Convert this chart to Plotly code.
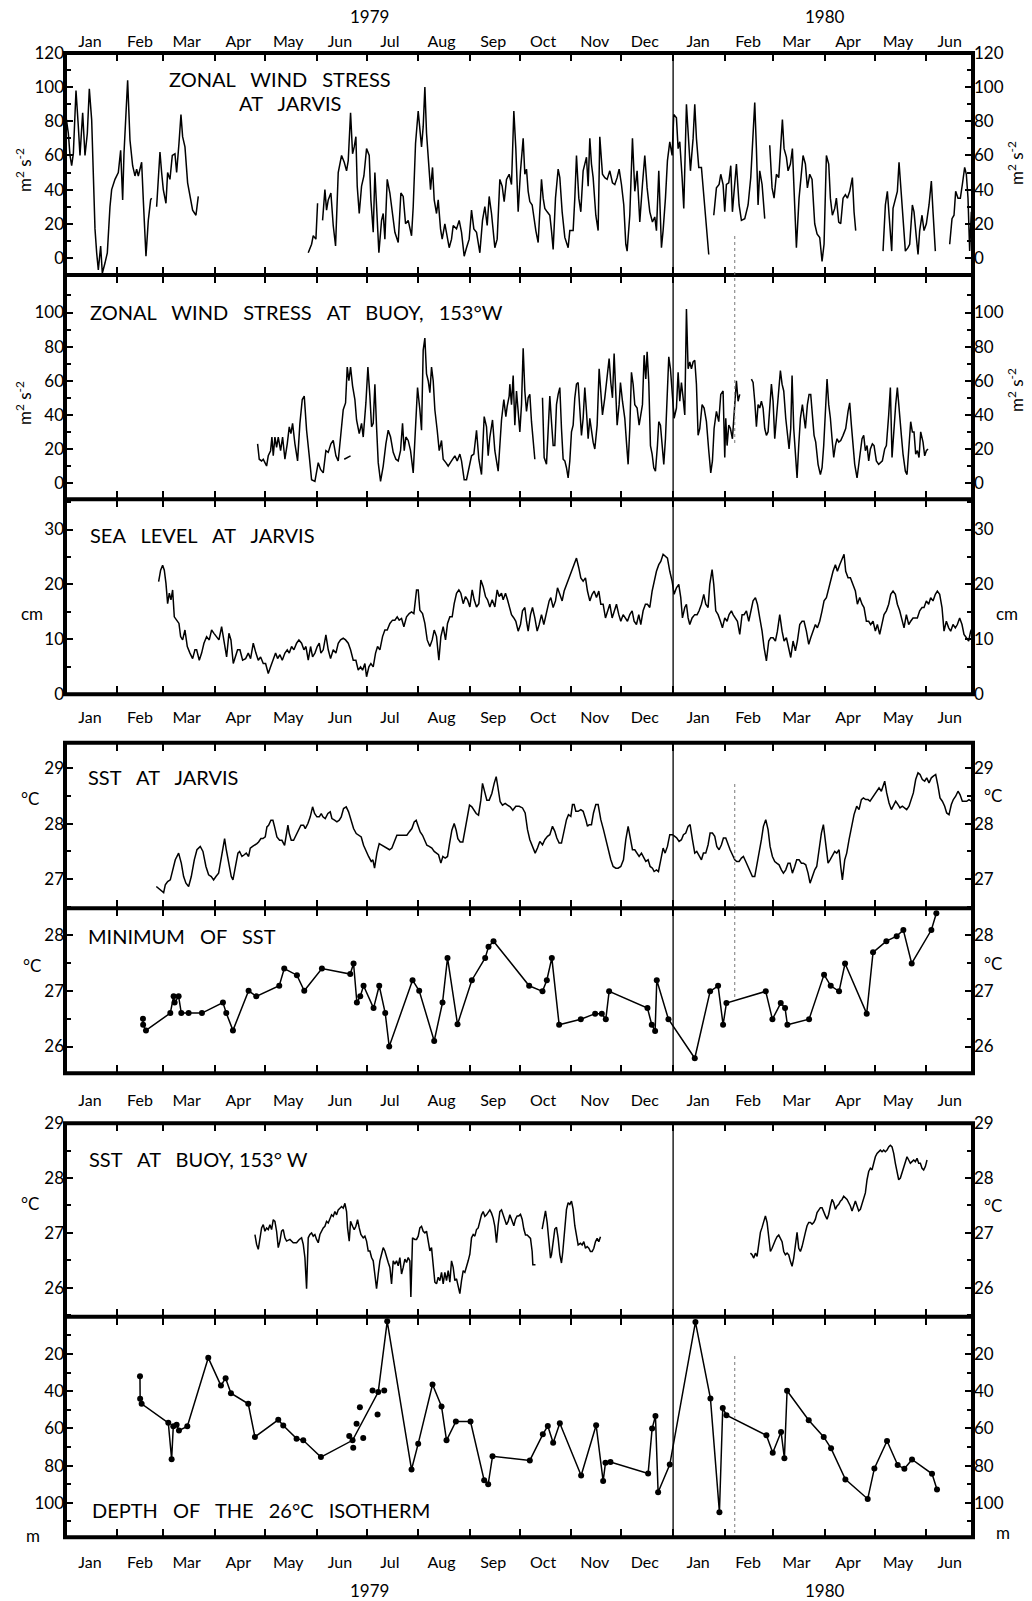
import plotly.graph_objects as go
from datetime import datetime, timedelta

# ---------------- axis text ----------------
MONTH_NAMES = ["Jan", "Feb", "Mar", "Apr", "May", "Jun", "Jul", "Aug", "Sep", "Oct", "Nov", "Dec",
               "Jan", "Feb", "Mar", "Apr", "May", "Jun"]
MONTH_STARTS = ["1979-01-01", "1979-02-01", "1979-03-01", "1979-04-01", "1979-05-01", "1979-06-01",
                "1979-07-01", "1979-08-01", "1979-09-01", "1979-10-01", "1979-11-01", "1979-12-01",
                "1980-01-01", "1980-02-01", "1980-03-01", "1980-04-01", "1980-05-01", "1980-06-01"]
MONTH_MIDS = ["1979-01-16", "1979-02-15", "1979-03-15", "1979-04-15", "1979-05-15", "1979-06-15",
              "1979-07-15", "1979-08-15", "1979-09-15", "1979-10-15", "1979-11-15", "1979-12-15",
              "1980-01-16", "1980-02-15", "1980-03-15", "1980-04-15", "1980-05-15", "1980-06-15"]
YEAR_LABELS = ["1979", "1980"]
YEAR_POS = ["1979-07-03", "1980-04-01"]
X_RANGE = ["1979-01-01", "1980-06-29"]
YEAR_MARK = "1980-01-01"
FOLD_MARK = "1980-02-07"

SP = " \u2002"
PANEL_TITLES = [SP.join(["ZONAL", "WIND", "STRESS", "AT", "BUOY,", "153°W"]),
                SP.join(["SEA", "LEVEL", "AT", "JARVIS"]),
                SP.join(["SST", "AT", "JARVIS"]),
                SP.join(["MINIMUM", "OF", "SST"]),
                SP.join(["SST", "AT", "BUOY, 153° W"]),
                SP.join(["DEPTH", "OF", "THE", "26°C", "ISOTHERM"])]
TOP_TITLE = [SP.join(["ZONAL", "WIND", "STRESS"]), SP.join(["AT", "JARVIS"])]

Y_RANGES = [[-10, 120], [-9.5, 122], [0, 35.5], [26.48, 29.45], [25.52, 28.48], [25.47, 29.0], [118.5, 0]]
Y_MAJOR = [[0, 20, 40, 60, 80, 100, 120], [0, 20, 40, 60, 80, 100], [0, 10, 20, 30], [27, 28, 29],
           [26, 27, 28], [26, 27, 28, 29], [20, 40, 60, 80, 100]]
Y_MINOR = [[10, 30, 50, 70, 90, 110], [10, 30, 50, 70, 90, 110], [5, 15, 25, 35], [26.5, 27.5, 28.5],
           [26.5, 27.5], [25.5, 26.5, 27.5, 28.5], [10, 30, 50, 70, 90, 110]]
UNITS = ["m<sup>2</sup> s<sup>-2</sup>", "m<sup>2</sup> s<sup>-2</sup>", "cm", "°C", "°C", "°C", "m"]

# ---------------- data (days since 1 Jan 1979) ----------------
# Zonal wind stress at Jarvis (m2 s-2)
JW_DAY = [0, 2, 3, 4, 5, 6.6, 8, 9, 10.6, 12,
          13.4, 14.6, 16, 17.4, 18, 19, 20, 21.4, 22.4, 24,
          25.4, 27, 28, 30, 32, 33.4, 34.6, 35.4, 36.6, 37.6,
          39, 40.6, 42, 43, 44, 46, 47, 48.6, 50, 51.4,
          52, None,
          55, 57, 58, 59, 60.6, 61.6, 63, 64.4, 66, 67,
          68.4, 69.6, 70.6, 72, 73.6, 75, 76.6, 78.6, 80, None,
          146, 148, 149, 150.6, 151.6, None,
          154.6, 156, 157, 158, 159.6, 161, 162.4, 164, 166, 167.6,
          169, 170, 171.4, 172.6, 173.6, 174.6, 175.4, 176.6, 178, 179.4,
          181, 182.6, 183.6, 185, 186, 187.4, 188.4, 190, 191, 192,
          193.4, 195, 196.6, 198, 200, 201.6, 203, 204.4, 206, 208,
          209, 210.4, 212, 213, 214, 215, 216, 217, 218.6, 219.4,
          220.6, 221.6, 223, 224, 225.4, 226.4, 228, 229, 230.6, 232,
          233, 235, 236.6, 238, 239.6, 241, 242.6, 244, 245.4, 247,
          249, 250.6, 252, 253.4, 254.6, 256, 258, 259.4, 261, 262.4,
          263.6, 265, 266.6, 268, 269.4, 270.6, 272, 273.4, 275, 276,
          277, 278, 279, 280.4, 281.4, 282.6, 284, 285, 286, 287,
          288, 289.4, 291, 292, 293, 294.4, 296, 297, 298.4, 300,
          302, 303, 305, 306, 307, 308.4, 309.6, 311, 313, 314,
          315, 316, 317, 318.6, 320, 321, 322.6, 324, 325.4, 327,
          328.6, 330, 331.4, 332.6, 334, 335.4, 336.6, 337.4, 339, 340.6,
          342, 343.4, 345, 346.6, 348, 349.4, 351, 352.6, 354, 355,
          356.4, 358, 359, 360.4, 361.6, 363, 364.4, 365.4, 367, 368,
          369, 370.4, 371.4, 373, 374, 375.4, 377, 378, 379, 380.4,
          382, 383.4, 385, 386.4, None,
          389.4, 391, 392.6, 393.6, 395, 396, 397, 398.4, 399.6, 400.6,
          401.6, 403, 404.6, 406, 408, 410, 411.6, 413, 414, 415,
          416, 417, 418.4, 420, None,
          423, 424.4, 425.6, 427, 428.4, 429.6, 430.6, 431.6, 433, 434,
          435.4, 436.6, 438, 439, 440.6, 442, 443, 444.4, 445.6, 447,
          448.4, 450, 451.4, 453, 454.4, 455.6, 457, 458.4, 459.4, 460.6,
          462, 463, 464.4, 465.6, 467, 468.4, 469.6, 471, 472.6, 473.6,
          474.6, None,
          491, 492.4, 493.6, 495, 496.2, 497, 498.6, 499.6, 500.6, 502,
          503, 504.4, 506, 507, 508.6, 509.6, 511, 512, 513, 514.4,
          515.6, 517, 518.6, 520, 521, 522.4, None,
          531, 532.4, 533.6, 534.6, 536, 537.4, 538.6, 540, 541, 542,
          543, 544]
JW_VAL = [87, 73, 60, 54, 61, 98, 77, 60, 85, 60,
          73, 99, 81, 34, 17, 3, -7, 7, -9, -3,
          3, 30, 40, 46, 50, 63, 34, 61, 81, 104,
          69, 54, 48, 52, 48, 56, 34, 1, 22, 34,
          35, None,
          30, 62, 50, 40, 32, 50, 46, 60, 61, 50,
          67, 84, 71, 65, 44, 36, 28, 25, 36, None,
          3, 8, 13, 11, 32, None,
          22, 40, 28, 34, 38, 19, 7, 50, 60, 56,
          51, 57, 85, 61, 65, 71, 42, 26, 42, 48,
          64, 60, 34, 15, 50, 24, 3, 22, 26, 11,
          46, 38, 24, 15, 9, 38, 36, 20, 22, 13,
          30, 67, 86, 77, 65, 77, 100, 73, 48, 40,
          53, 34, 26, 34, 17, 11, 20, 15, 6, 11,
          19, 17, 22, 15, 1, 6, 11, 28, 17, 15,
          3, 22, 30, 19, 36, 26, 6, 11, 46, 42,
          33, 46, 49, 43, 86, 64, 27, 51, 70, 49,
          52, 39, 33, 31, 23, 16, 9, 25, 46, 35,
          29, 27, 25, 16, 5, 35, 52, 47, 27, 12,
          6, 16, 16, 35, 60, 35, 27, 51, 59, 42,
          70, 55, 47, 25, 16, 71, 49, 47, 46, 51,
          44, 43, 47, 52, 43, 31, 8, 4, 25, 70,
          39, 51, 21, 43, 60, 41, 27, 21, 24, 16,
          51, 6, 16, 35, 57, 68, 60, 84, 82, 64,
          68, 47, 29, 90, 74, 51, 70, 90, 70, 53,
          53, 35, 20, 2, None,
          25, 41, 43, 49, 43, 27, 43, 44, 54, 27,
          39, 55, 31, 22, 23, 31, 47, 74, 91, 64,
          31, 51, 43, 23, None,
          66, 41, 35, 49, 47, 66, 81, 64, 59, 51,
          55, 64, 27, 6, 35, 51, 60, 55, 41, 49,
          46, 20, 14, 12, -2, 8, 60, 55, 35, 25,
          29, 35, 21, 20, 35, 37, 35, 39, 47, 27,
          16, None,
          4, 31, 39, 18, 4, 29, 35, 39, 56, 35,
          20, 4, 6, 8, 31, 27, 12, 2, 16, 25,
          16, 20, 31, 45, 27, 4, None,
          8, 23, 25, 39, 35, 35, 43, 53, 49, 35,
          4, 27]

# Zonal wind stress at buoy, 153W (m2 s-2)
BW_DAY = [115.6, 116.6, 118, 119, 120, 121, 122, 123.4, 124.2, 125,
          126, 127, 128, 129.4, 130.6, 132, 133.4, 134.6, 135.6, 136.6,
          138, 139.6, 141, 142.4, 143.6, 145, 146.6, 148, 150, 152,
          153.4, 155, 156.6, 158, 159.6, 161, 162.6, 164, 165.4, 167,
          168.4, 169.4, 170.4, 171.4, 172.6, 174, 175, 176.6, 178, 179,
          180.6, 181.8, 183, 184, 185, 186, 187, 188, 189.4, 191,
          192.6, 194, 195.4, 197, 198.6, 200, 201.4, 202.6, 203.6, 204.6,
          206, 207.4, 209, 210.6, 211.6, 213, 214, 215, 216, 217,
          218, 219, 220, 221, 222, 223.4, 224.6, 226, 227, 228.6,
          230, 232, 234, 235.4, 237, 238, 239.6, 241, 242.6, 244,
          245.4, 247, 248.4, 250, 251.6, 253, 254, 255, 256.6, 258,
          260, 262, 263.4, 264.6, 265.4, 266.6, 267, 268, 269, 270,
          271, 272, 273, 274, 275, 276, 277, 278, 279, 280,
          281, 282, None,
          286.6, 287.6, 289, 290, 291, 292, 293, 294, 295, 296,
          297, 298, 299, 300, 301, 302, 303, 304, 305, 306,
          307, 308, 309, 310, 311, 312, 313, 314, 315, 316,
          317, 318, 319.4, 320.6, 321.6, 322.6, 324, 325.4, 326.6, 327.6,
          328.6, 329.6, 330.6, 331.4, 332.6, 333.4, 334.6, 336, 337, 338,
          339, 340, 341, 342, 343.4, 344.6, 345.6, 346.6, 347.6, 348.6,
          349.4, 350.4, 351.4, 352.4, 353.4, 354.4, 355.6, 356.4, 357.4, 358.4,
          359.4, 360.4, 361.4, 362.4, 363.4, 364.4, 365.6, 367, 368, 369,
          370, 371, 372, 373, 374, 375, 376, 377, 378, 379,
          380, 381, 382.4, 383.6, 385, 386.4, 387.6, 388.6, 389.6, 391,
          392.4, 393.6, 395, 396, 396.6, 397.4, 398.4, 399.4, 400.6, 402,
          403, 404, 405, None,
          412, 413, 414, 415, 416, 417, 418, 419, 420, 421,
          422, 423, 424, 425, 426, 427, 428.2, 429.4, 430.4, 431.4,
          432.6, 433.6, 434.6, 435.6, 436.4, 437.4, 438.4, 439.4, 440.4, 441.4,
          442.6, 443.4, 444.4, 445.6, 446.6, 447.6, 448.6, 449.6, 450.6, 452,
          453.4, 454.4, 455.4, 456.4, 457.4, 458.4, 459.4, 460.4, 461.4, 462.4,
          463.4, 464.4, 465.6, 467, 468.6, 470, 471, 472, 473, 474,
          475.4, 476.4, 477.4, 478.4, 479.4, 480.4, 481.4, 482.4, 483.4, 484.6,
          485.6, 487, 488.4, 489.6, 490.6, 492, 493, 494.4, 495.4, 496.4,
          497.6, 498.6, 499.6, 500.6, 502, 503, 504.4, 505.4, 506.4, 507.6,
          508.6, 509.6, 510.6, 511.6, 512.6, 513.6, 515, 516, 517, 518]
BW_VAL = [23, 14, 13, 14, 12, 10, 16, 19, 27, 16,
          27, 21, 27, 19, 27, 14, 23, 33, 29, 35,
          23, 13, 35, 49, 51, 31, 16, 2, 1, 12,
          8, 6, 19, 18, 23, 25, 16, 13, 27, 43,
          47, 68, 60, 68, 57, 49, 37, 29, 35, 27,
          47, 68, 51, 33, 35, 58, 33, 12, 1, 10,
          23, 31, 27, 18, 14, 13, 19, 35, 19, 27,
          25, 19, 6, 33, 56, 43, 31, 78, 85, 64,
          60, 53, 68, 60, 43, 31, 19, 25, 14, 12,
          10, 13, 16, 13, 17, 13, 2, 2, 10, 16,
          17, 31, 14, 5, 39, 33, 16, 27, 37, 19,
          7, 37, 49, 39, 45, 51, 58, 46, 63, 34,
          54, 42, 30, 46, 79, 54, 42, 50, 52, 36,
          24, 14, None,
          50, 15, 11, 32, 51, 36, 22, 22, 46, 52,
          56, 32, 14, 13, 9, 3, 13, 30, 34, 50,
          58, 59, 42, 28, 38, 56, 42, 26, 38, 30,
          24, 20, 34, 67, 50, 40, 50, 61, 73, 59,
          50, 76, 56, 34, 46, 59, 48, 38, 24, 11,
          32, 65, 58, 46, 44, 34, 40, 46, 75, 61,
          77, 59, 22, 17, 9, 7, 22, 36, 34, 24,
          11, 26, 54, 74, 67, 56, 38, 44, 65, 48,
          59, 50, 40, 102, 67, 71, 67, 71, 72, 58,
          28, 32, 46, 44, 36, 19, 6, 13, 32, 42,
          36, 52, 54, 15, 38, 22, 34, 32, 26, 46,
          60, 48, 52, None,
          61, 59, 48, 33, 46, 44, 48, 44, 32, 28,
          30, 46, 58, 48, 26, 38, 54, 66, 58, 54,
          38, 28, 20, 32, 63, 32, 18, 3, 22, 38,
          46, 38, 32, 46, 52, 52, 40, 28, 24, 11,
          5, 9, 22, 42, 61, 46, 38, 26, 15, 22,
          26, 24, 25, 28, 32, 42, 47, 34, 22, 11,
          3, 11, 19, 26, 28, 19, 22, 13, 20, 23,
          22, 13, 11, 12, 13, 20, 22, 40, 56, 15,
          36, 46, 56, 42, 28, 17, 7, 5, 19, 36,
          30, 30, 17, 19, 15, 30, 24, 16, 19, 20]
BW_DASH_DAY = [167.6, 171.4]
BW_DASH_VAL = [14, 16]

# Sea level at Jarvis (cm)
SL_DAY = [56.2, 57.4, 58.6, 59.6, 60.6, 61.6, 62.6, 63.6, 64.6, 65.6,
          67, 68.4, 69.4, 70.6, 72, 73.4, 75, 76.6, 78, 79,
          80.6, 82, 83.4, 85, 86.6, 88, 89.4, 91, 92.4, 94,
          95.4, 97, 98.4, 99.6, 101, 102.4, 103.6, 105, 106.6, 108.4,
          110, 111.4, 113, 114.6, 116, 117.4, 119, 120.4, 122, 123.4,
          125, 126.4, 127.6, 129, 130.4, 132, 133.4, 134.6, 136, 137.4,
          139, 140.4, 142, 143.4, 144.6, 146, 147.4, 148.6, 150, 151.4,
          152.6, 153.6, 155, 156.6, 158, 159.4, 161, 162.6, 164, 165.4,
          167, 168.4, 170, 171.4, 173, 174.6, 176, 177.4, 178.6, 180,
          181, 182.4, 183.6, 185, 186.4, 187.6, 189, 190.6, 192, 193.4,
          195, 196.6, 198, 199.4, 200.6, 202, 203.4, 205, 206.6, 208,
          209.4, 211, 212, 213, 214.6, 216, 217.4, 219, 220.4, 221.6,
          223, 224.4, 225.6, 227, 228.4, 229.6, 231, 232.4, 233.6, 235,
          236.4, 237.6, 239, 240.4, 241.6, 243, 244.4, 245.6, 247, 248.4,
          249.6, 251, 252.4, 253.6, 255, 256.4, 258, 259.4, 260.6, 262,
          263, 264.4, 265.6, 267, 268, 269.4, 270.6, 272, 273.4, 274.6,
          276, 277, 278, 279.4, 280.6, 282, 283.4, 284.6, 286, 287.4,
          289, 290.6, 291.6, 293, 294.4, 295.6, 297, 298.4, 299.6, 301,
          302.4, 304, 305.4, 307, 308.4, 309.6, 311, 312.4, 313.6, 315,
          316.4, 317.6, 319, 320.4, 321.6, 323, 324.4, 325.6, 327, 328.4,
          329.6, 331, 332.4, 333.6, 335, 336.4, 337.6, 339, 340.4, 341.6,
          343, 344.4, 345.6, 347, 348.4, 349.6, 351, 352.4, 353.6, 355,
          356.4, 357.6, 359, 360.4, 361.6, 363, 364.4, 365.6, 367, 368.4,
          369.6, 370.6, 372, 373, 374, 375, 376.4, 378, 379.4, 380.6,
          382, 383.4, 384.6, 386, 387, 388.4, 389.4, 390.6, 392, 393.4,
          394.6, 396, 397.4, 398.6, 400, 401, 402.4, 403.6, 405, 406.4,
          407.6, 409, 410.4, 411.6, 413, 414.4, 415.6, 417, 418.4, 419.6,
          421, 422.4, 423.6, 425, 426.4, 427.6, 429, 430.4, 431.6, 433,
          434.4, 435.6, 437, 438.4, 439.6, 441, 442.4, 443.6, 445, 446.4,
          447.6, 449, 450.4, 451.6, 453, 454.4, 455.6, 457, 458.4, 459.6,
          461, 462.4, 463.6, 465, 466.4, 467.6, 468.6, 470, 471.4, 473,
          474.4, 475.6, 477, 478.4, 479.6, 481, 482.4, 483.6, 485, 486.4,
          487.6, 489, 490.4, 491.6, 493, 494.4, 495.6, 497, 498.4, 499.6,
          501, 502.4, 503.6, 505, 506.4, 507.6, 509, 510.4, 511.6, 513,
          514.4, 515.6, 517, 518.4, 519.6, 521, 522.4, 523.6, 525, 526.4,
          527.6, 529, 530.4, 531.6, 533, 534.4, 535.6, 537, 538.4, 539.6,
          541, 542.4, 543.6, 544.6]
SL_VAL = [20.5, 22.6, 23.5, 22.6, 20.2, 16.5, 18.4, 17.2, 19.0, 14.1,
          13.5, 12.9, 10.5, 9.9, 11.7, 8.7, 7.5, 6.5, 8.1, 8.1,
          6.2, 7.5, 9.3, 10.5, 9.9, 11.7, 11.1, 10.5, 9.9, 12.3,
          9.3, 6.8, 11.1, 9.9, 5.6, 6.8, 8.1, 8.1, 6.2, 6.5,
          7.5, 6.5, 9.3, 7.5, 6.2, 6.8, 5.6, 5.6, 3.8, 5.0,
          6.2, 7.5, 6.5, 7.2, 6.2, 7.5, 8.1, 7.5, 8.7, 8.1,
          9.3, 9.9, 9.3, 8.1, 8.7, 6.2, 8.7, 6.8, 7.5, 8.7,
          9.3, 7.5, 8.1, 10.8, 8.1, 6.5, 8.1, 7.5, 9.3, 9.9,
          10.2, 9.9, 9.3, 8.1, 6.2, 6.2, 4.4, 5.0, 4.4, 5.6,
          3.2, 5.0, 5.6, 5.0, 7.5, 8.7, 8.1, 10.5, 11.7, 11.7,
          12.9, 13.5, 13.5, 14.1, 13.5, 13.8, 12.3, 14.1, 14.7, 15.0,
          14.7, 19.0, 19.0, 15.3, 14.7, 12.9, 9.9, 8.7, 9.9, 11.7,
          10.5, 6.2, 10.5, 12.3, 9.9, 12.9, 14.1, 14.1, 16.5, 18.4,
          19.0, 18.4, 16.5, 17.8, 17.2, 15.9, 19.0, 17.2, 15.9, 16.5,
          20.8, 19.6, 17.8, 17.2, 15.9, 17.2, 15.9, 19.0, 17.8, 18.4,
          17.2, 18.4, 17.2, 15.8, 14.5, 13.9, 13.3, 11.5, 12.7, 15.2,
          15.8, 13.3, 11.5, 14.5, 15.8, 13.9, 11.5, 12.7, 14.5, 12.7,
          15.2, 17.0, 17.6, 15.8, 17.0, 19.4, 18.2, 17.0, 18.8, 20.0,
          21.2, 22.4, 23.6, 24.8, 23.0, 21.2, 20.6, 21.2, 18.8, 17.0,
          18.2, 18.8, 17.6, 18.8, 16.4, 16.4, 13.9, 15.2, 16.4, 13.9,
          15.2, 16.4, 14.5, 13.3, 14.5, 13.9, 13.3, 14.5, 15.2, 13.3,
          12.7, 14.5, 12.7, 15.2, 16.4, 16.4, 15.8, 18.8, 20.6, 22.4,
          23.6, 24.2, 25.5, 25.2, 24.8, 22.4, 20.6, 18.2, 19.4, 20.0,
          17.6, 13.9, 15.8, 16.4, 13.9, 12.7, 13.9, 14.5, 14.5, 15.2,
          16.4, 18.2, 16.4, 15.8, 20.0, 22.7, 20.0, 15.2, 14.5, 13.3,
          12.1, 13.9, 13.3, 14.5, 15.2, 14.5, 13.9, 13.3, 10.9, 14.5,
          14.5, 15.2, 13.3, 15.2, 17.0, 17.6, 16.4, 13.9, 11.5, 8.5,
          6.1, 9.7, 10.3, 10.3, 9.7, 11.5, 14.5, 11.5, 9.7, 10.3,
          8.5, 6.7, 9.7, 7.9, 9.7, 12.7, 13.3, 13.3, 11.5, 9.1,
          10.3, 11.5, 12.7, 12.1, 13.3, 15.2, 17.0, 17.6, 19.4, 20.6,
          22.4, 23.6, 22.4, 23.6, 24.8, 25.5, 22.4, 21.2, 21.2, 20.0,
          18.8, 16.4, 17.6, 16.4, 15.8, 13.3, 13.3, 12.7, 13.3, 11.5,
          12.7, 10.9, 12.7, 14.5, 15.2, 16.4, 18.2, 18.8, 18.2, 16.4,
          15.2, 13.3, 12.1, 14.5, 12.7, 13.3, 13.9, 13.9, 13.9, 15.2,
          15.8, 15.8, 17.0, 16.4, 17.6, 17.0, 18.2, 18.8, 18.2, 15.8,
          11.5, 13.3, 12.1, 11.5, 12.7, 12.1, 12.7, 13.9, 12.7, 10.9,
          10.3, 9.7, 11.5, 12.1]

# SST at Jarvis (deg C)
SJ_DAY = [54.8, 56.2, 57.8, 59.2, 60.2, 61.6, 63.2, 64.6, 66.2, 68.2,
          69.8, 71.2, 72.6, 74.2, 75.8, 77.6, 79.2, 81.2, 82.8, 84.6,
          86.2, 87.8, 89.2, 90.6, 92.2, 93.6, 94.8, 95.8, 96.8, 98.2,
          99.8, 100.8, 102.2, 103.8, 104.8, 106.2, 107.6, 108.8, 110.2, 111.2,
          112.6, 113.8, 115.2, 116.2, 117.6, 118.8, 120.2, 121.2, 122.2, 123.6,
          124.8, 125.8, 127.2, 128.8, 130.2, 131.8, 132.8, 133.8, 134.6, 135.8,
          137.2, 138.6, 140.2, 141.6, 143.2, 144.2, 145.8, 147.2, 148.6, 149.8,
          151.2, 152.6, 153.8, 154.8, 156.2, 157.8, 159.2, 160.2, 161.8, 163.2,
          164.6, 165.8, 167.2, 168.8, 170.2, 171.6, 173.2, 174.8, 176.2, 177.8,
          179.2, 180.6, 182.2, 183.8, 184.8, 185.8, 187.2, 188.6, 190.2, 191.6,
          193.2, 194.8, 196.2, 197.6, 199.2, 200.6, 202.2, 203.8, 205.2, 206.6,
          208.2, 209.6, 210.8, 211.8, 213.2, 214.6, 215.8, 217.2, 218.6, 220.2,
          221.6, 222.8, 224.2, 225.6, 226.8, 228.2, 229.6, 230.8, 232.2, 233.6,
          234.8, 235.8, 237.2, 238.8, 240.2, 241.6, 242.8, 244.2, 245.6, 246.8,
          248.2, 249.6, 250.6, 251.8, 253.2, 254.6, 256.2, 257.6, 258.8, 259.8,
          261.2, 262.6, 264.2, 265.6, 267.2, 268.8, 270.6, 272.6, 274.6, 276.2,
          277.6, 279, 280.6, 282.2, 283.6, 285, 286.6, 288, 289.6, 291,
          292.6, 294, 295.2, 296.6, 298, 299.6, 301, 302.2, 303.6, 304.6,
          305.6, 306.6, 308, 309.6, 311, 312.6, 313.6, 314.6, 316, 317.2,
          318.6, 320, 321.6, 323.2, 324.6, 326.2, 327.6, 329, 330.6, 332,
          333.6, 335.2, 336.6, 338, 339.2, 340.6, 342, 343.2, 344.6, 346,
          347.2, 348.6, 350, 351.2, 352.6, 353.6, 355, 356.2, 357.6, 359,
          360.2, 361.6, 363, 364.6, 366, 367.2, 368.6, 370, 371.2, 372.6,
          374, 375.2, 376.6, 378, 379.2, 380.6, 382, 383.2, 384.6, 386,
          387.2, 388.6, 390, 391.2, 392.6, 394, 395.2, 396.6, 398, 399.2,
          400.6, 402, 403.2, 404.6, 406, 407.2, 408.6, 410, 411.2, 412.6,
          414, 415.2, 416.6, 418, 419.2, 420.6, 422, 423.2, 424.6, 426,
          427.2, 428.6, 430, 431.2, 432.6, 434, 435.2, 436.6, 438, 439.2,
          440.6, 442, 443.2, 444.6, 446, 447.2, 448.6, 450, 451.2, 452.6,
          454, 455.2, 456.6, 458, 459.2, 460.6, 462, 463.2, 464.6, 465.6,
          466.6, 468, 469.2, 470.6, 472, 473.6, 475.2, 476.6, 478, 479.2,
          480.6, 482, 483.2, 484.6, 486, 487.2, 488.6, 490, 491.2, 492,
          493.2, 494.6, 496, 497.2, 498.6, 500, 501.2, 502.6, 504, 505.2,
          506.6, 508, 509.2, 510.6, 512, 513.2, 514.6, 516, 517.2, 518.6,
          520, 521.2, 522.6, 524, 525.2, 526.6, 528, 529.2, 530.6, 532,
          533.2, 534.6, 536, 537.2, 538.6, 540, 541.2, 542.6, 544]
SJ_VAL = [26.87, 26.84, 26.80, 26.76, 26.90, 26.96, 26.99, 27.17, 27.35, 27.47,
          27.29, 27.05, 26.93, 26.87, 27.05, 27.35, 27.53, 27.59, 27.50, 27.23,
          27.08, 27.05, 26.99, 27.05, 27.11, 27.35, 27.59, 27.73, 27.53, 27.29,
          27.05, 26.99, 27.23, 27.47, 27.50, 27.41, 27.44, 27.47, 27.41, 27.56,
          27.59, 27.61, 27.64, 27.67, 27.73, 27.73, 27.76, 27.94, 27.97, 28.06,
          28.06, 27.94, 27.76, 27.70, 27.70, 27.61, 27.76, 27.97, 27.82, 27.70,
          27.70, 27.79, 27.91, 27.97, 27.97, 27.91, 28.00, 28.12, 28.30, 28.18,
          28.12, 28.12, 28.18, 28.12, 28.09, 28.18, 28.21, 28.09, 28.06, 28.03,
          28.06, 28.12, 28.27, 28.30, 28.21, 28.06, 27.91, 27.82, 27.79, 27.76,
          27.61, 27.50, 27.41, 27.32, 27.35, 27.20, 27.47, 27.64, 27.61, 27.59,
          27.56, 27.53, 27.56, 27.67, 27.79, 27.79, 27.79, 27.79, 27.79, 27.85,
          27.91, 28.03, 28.06, 27.97, 27.85, 27.79, 27.70, 27.61, 27.59, 27.56,
          27.50, 27.47, 27.44, 27.29, 27.41, 27.38, 27.41, 27.64, 27.88, 28.00,
          27.88, 27.73, 27.67, 27.67, 27.88, 28.12, 28.33, 28.30, 28.24, 28.18,
          28.15, 28.42, 28.72, 28.57, 28.42, 28.42, 28.54, 28.72, 28.84, 28.66,
          28.39, 28.33, 28.36, 28.33, 28.30, 28.24, 28.31, 28.31, 28.28, 28.19,
          27.89, 27.71, 27.59, 27.47, 27.56, 27.68, 27.62, 27.71, 27.77, 27.80,
          27.95, 27.86, 27.74, 27.65, 27.65, 27.89, 28.07, 28.16, 28.13, 28.34,
          28.34, 28.22, 28.22, 28.25, 28.22, 28.07, 27.95, 27.98, 27.98, 28.19,
          28.34, 28.34, 28.07, 27.89, 27.71, 27.53, 27.35, 27.23, 27.20, 27.20,
          27.23, 27.35, 27.71, 27.95, 27.77, 27.53, 27.53, 27.47, 27.41, 27.47,
          27.41, 27.32, 27.35, 27.23, 27.20, 27.14, 27.17, 27.14, 27.35, 27.56,
          27.47, 27.59, 27.80, 27.80, 27.77, 27.74, 27.68, 27.71, 27.80, 27.83,
          27.95, 27.98, 27.71, 27.47, 27.50, 27.41, 27.35, 27.47, 27.47, 27.62,
          27.83, 27.83, 27.77, 27.59, 27.53, 27.62, 27.74, 27.74, 27.62, 27.53,
          27.44, 27.35, 27.32, 27.32, 27.38, 27.41, 27.32, 27.23, 27.14, 27.05,
          27.05, 27.23, 27.47, 27.71, 27.95, 28.07, 27.89, 27.59, 27.41, 27.32,
          27.29, 27.26, 27.17, 27.11, 27.17, 27.29, 27.29, 27.11, 27.23, 27.35,
          27.35, 27.29, 27.29, 27.26, 27.11, 26.93, 27.05, 27.17, 27.23, 27.53,
          27.83, 27.98, 27.65, 27.29, 27.35, 27.44, 27.50, 27.47, 27.53, 27.23,
          26.99, 27.35, 27.47, 27.71, 27.95, 28.16, 28.31, 28.25, 28.43, 28.46,
          28.43, 28.43, 28.40, 28.46, 28.52, 28.58, 28.64, 28.58, 28.70, 28.76,
          28.55, 28.37, 28.25, 28.31, 28.40, 28.34, 28.28, 28.31, 28.28, 28.25,
          28.31, 28.43, 28.55, 28.79, 28.91, 28.88, 28.79, 28.76, 28.82, 28.73,
          28.82, 28.85, 28.88, 28.67, 28.46, 28.40, 28.31, 28.19, 28.16, 28.34,
          28.43, 28.49, 28.58, 28.52, 28.40, 28.40, 28.40, 28.43, 28.40]

# Minimum of SST (deg C)
MS_DAY = [46.8, 46.9, 48.6, 63.2, 65.2, 65.8, 68.2, 69.8, 74.2, 82.2,
          94.8, 96.8, 100.8, 110.2, 114.8, 128.6, 131.6, 139.2, 143.6, 154.2,
          171.2, 173.2, 175.2, 177.2, 179.2, 185.2, 188.6, 192.2, 194.6, 208.6,
          212.6, 221.6, 226.6, 229.6, 235.6, 244.2, 252.2, 254.2, 257.2, 278.6,
          286.6, 289.2, 292.2, 296.6, 309.6, 318.2, 322.2, 324.6, 326.6, 349.6,
          352.2, 354.2, 355.2, 362.2, 378, 387.2, 392, 395, 397, 420.6,
          424.6, 429.6, 432.2, 433.6, 446.6, 455.6, 459.6, 464.6, 468.2, 481.2,
          485, 493, 499.2, 503.2, 508.2, 520, 523]
MS_VAL = [26.50, 26.39, 26.29, 26.60, 26.90, 26.79, 26.90, 26.60, 26.60, 26.60,
          26.79, 26.60, 26.29, 27.00, 26.90, 27.09, 27.40, 27.28, 27.00, 27.40,
          27.30, 27.49, 26.79, 26.90, 27.09, 26.69, 27.09, 26.60, 26.00, 27.19,
          27.00, 26.10, 26.79, 27.59, 26.40, 27.19, 27.59, 27.79, 27.89, 27.09,
          26.99, 27.19, 27.59, 26.39, 26.49, 26.59, 26.59, 26.49, 26.99, 26.69,
          26.39, 26.28, 27.19, 26.49, 25.79, 26.99, 27.09, 26.39, 26.78, 26.99,
          26.49, 26.78, 26.69, 26.39, 26.49, 27.29, 27.09, 26.99, 27.49, 26.59,
          27.69, 27.89, 27.98, 28.09, 27.49, 28.09, 28.39]

# SST at buoy, 153W (deg C)
SB_DAY = [114, 115, 116, 117, 118, 119, 120, 121, 122, 123,
          124, 125, 126, 127, 128, 129, 130, 131, 132, 133,
          135, 137, 139, 140.6, 142, 143, 144, 145, 146, 147,
          148, 149, 150, 151, 152, 153, 154, 155, 156, 157,
          158, 159, 160, 161, 162, 163, 164, 165, 166, 167,
          168, 169, 169.6, 170.6, 171.4, 172.6, 173.6, 174.6, 175.6, 176.6,
          177.6, 179, 180, 181, 182, 183, 184, 185, 186, 187,
          188, 189, 190, 191, 192, 193, 194, 195, 196, 197,
          198, 199, 200, 201, 202, 203, 204, 205, 206, 207,
          207.6, 208.6, 210, 211, 212, 213, 214, 215, 216, 217,
          218, 219, 220, 221, 222, 223, 224, 225, 226, 227,
          228, 229, 230, 231, 232, 233, 234, 235, 236, 237,
          238, 239, 240, 241, 242, 243, 244, 245, 246, 247,
          248, 249, 250, 251, 252, 253, 254, 255, 256, 257,
          258, 259, 260, 261, 262, 263, 264, 265, 266, 267,
          269.4, 270.4, 271.4, 272.4, 273.4, 274.4, 275.4, 276.4, 277.4, 278.4,
          279.4, 280.4, 280.8, 282.4, None,
          286.4, 287.4, 288.4, 289.4, 290.4, 291.4, 292, 292.8, 294, 295,
          296, 297, 298, 298.8, 300, 301, 302, 303, 304, 305,
          306, 307, 308, 309.4, 310.4, 311.4, 312.4, 313.4, 314.4, 315.4,
          316.4, 317.4, 318.4, 319.4, 320.4, 321.4, None,
          411.4, 412.4, 413.4, 414.4, 415.4, 416.4, 417.4, 418.4, 419.4, 420.4,
          421.4, 422.4, 423.4, 424.4, 425.4, 426.4, 427.4, 428.4, 429.4, 430.4,
          431.4, 432.4, 433.4, 434.4, 435.4, 436.4, 437.4, 438.4, 439.4, 440.4,
          441.4, 442.4, 443.4, 444.4, 445.4, 446.4, 447.4, 448.4, 449.4, 450.4,
          451.4, 452.4, 453.4, 454.4, 455.4, 456.4, 457.4, 458.4, 459.4, 460.4,
          461.4, 462.4, 463.4, 464.4, 465.4, 466.4, 467.4, 468.4, 469.4, 470.4,
          471.4, 472.4, 473.4, 474.4, 475.4, 476.4, 477.4, 478.4, 479.4, 480.4,
          481.4, 482.4, 483.4, 484.4, 485.4, 486.4, 487.4, 488.4, 489.4, 490.4,
          491.4, 492.4, 493.4, 494.4, 495.4, 496.4, 497.4, 498.4, 499.4, 500.4,
          501.4, 502.4, 503.4, 504.4, 505.4, 506.4, 507.4, 508.4, 509.4, 510.4,
          511.4, 512.4, 513.4, 514.4, 515.4, 516.4, 517.4]
SB_VAL = [26.97, 26.79, 26.70, 26.91, 27.09, 27.15, 27.03, 27.09, 27.06, 27.15,
          27.06, 27.24, 27.21, 27.03, 26.73, 26.85, 27.03, 27.06, 26.91, 26.85,
          26.88, 26.82, 26.82, 26.88, 26.91, 26.79, 26.55, 25.98, 26.91, 26.97,
          27.00, 26.94, 26.97, 26.88, 26.82, 26.97, 27.03, 27.09, 27.12, 27.21,
          27.18, 27.24, 27.33, 27.30, 27.39, 27.33, 27.42, 27.45, 27.48, 27.45,
          27.54, 27.39, 27.09, 26.85, 27.21, 27.12, 27.06, 27.12, 27.24, 27.09,
          26.97, 26.91, 26.94, 26.85, 26.67, 26.67, 26.55, 26.49, 26.19, 25.98,
          26.25, 26.49, 26.61, 26.73, 26.67, 26.55, 26.46, 26.37, 26.07, 26.49,
          26.43, 26.49, 26.40, 26.55, 26.25, 26.37, 26.52, 26.46, 26.55, 26.49,
          25.83, 26.91, 26.88, 26.88, 26.94, 27.09, 27.12, 27.03, 27.00, 27.03,
          26.85, 26.67, 26.73, 26.37, 26.10, 26.07, 26.19, 26.13, 26.28, 26.07,
          26.28, 26.13, 26.31, 26.10, 26.49, 26.37, 26.13, 26.16, 26.04, 25.89,
          26.13, 26.31, 26.28, 26.37, 26.49, 26.61, 26.91, 26.97, 26.94, 27.06,
          27.09, 27.21, 27.33, 27.39, 27.30, 27.33, 27.39, 27.42, 27.36, 27.27,
          27.12, 26.82, 27.15, 27.39, 27.42, 27.33, 27.27, 27.15, 27.21, 27.33,
          27.13, 27.25, 27.31, 27.31, 27.34, 27.25, 27.07, 26.96, 26.96, 26.93,
          26.90, 26.66, 26.42, 26.42, None,
          27.07, 27.25, 27.40, 27.19, 26.90, 26.54, 26.60, 26.78, 27.07, 27.10,
          26.90, 26.60, 26.45, 26.66, 27.01, 27.43, 27.55, 27.52, 27.58, 27.43,
          27.13, 26.96, 26.78, 26.81, 26.78, 26.84, 26.72, 26.75, 26.72, 26.66,
          26.66, 26.72, 26.84, 26.90, 26.84, 26.93, None,
          26.63, 26.60, 26.54, 26.63, 26.57, 26.78, 27.01, 27.10, 27.19, 27.31,
          27.19, 26.96, 26.66, 26.72, 26.81, 26.87, 26.93, 26.96, 26.90, 26.84,
          26.66, 26.60, 26.63, 26.60, 26.48, 26.39, 26.54, 26.78, 27.01, 26.72,
          26.66, 26.75, 26.90, 27.01, 27.13, 27.19, 27.19, 27.16, 27.19, 27.25,
          27.37, 27.43, 27.46, 27.46, 27.37, 27.31, 27.25, 27.34, 27.49, 27.61,
          27.55, 27.43, 27.49, 27.52, 27.58, 27.61, 27.67, 27.64, 27.61, 27.55,
          27.49, 27.40, 27.49, 27.58, 27.49, 27.40, 27.43, 27.52, 27.61, 27.73,
          27.97, 28.12, 28.18, 28.15, 28.27, 28.39, 28.45, 28.48, 28.51, 28.48,
          28.51, 28.48, 28.51, 28.57, 28.60, 28.57, 28.45, 28.27, 28.09, 27.97,
          28.00, 28.09, 28.21, 28.30, 28.39, 28.33, 28.27, 28.30, 28.33, 28.30,
          28.36, 28.27, 28.27, 28.18, 28.15, 28.21, 28.33]

# Depth of the 26C isotherm (m)
DP_DAY = [45, 45.1, 46, 62, 64, 65, 67, 68.4, 73.4, 86,
          93.6, 96.4, 99.6, 110, 114, 128, 131, 139, 143, 153.6,
          172.6, 188, 193.4, 208, 212, 220.6, 226, 229, 234.6, 243.4,
          251.6, 254, 256.6, 279, 286.8, 289.8, 293, 297, 309.8, 318.8,
          323, 324.4, 327.4, 350, 352.4, 354.4, 356, 363, 378.4, 387.4,
          392.8, 394.8, 397, 421, 424.8, 429.8, 431.8, 433.4, 446.4, 455.4,
          459.8, 468.4, 481.8, 485.8, 493.4, 499.8, 503.8, 508.4, 520.4, 523.4]
DP_VAL = [32.0, 44.1, 46.8, 57.0, 76.6, 58.9, 58.0, 61.1, 58.9, 22.1,
          37.0, 33.0, 41.1, 46.8, 64.6, 55.4, 58.4, 65.5, 66.4, 75.4,
          66.4, 40.5, 2.5, 82.1, 68.2, 36.4, 48.2, 66.4, 56.3, 56.3,
          87.9, 90.0, 75.0, 77.2, 63.2, 58.7, 67.7, 57.2, 85.3, 58.3,
          88.3, 78.5, 78.1, 84.2, 60.1, 53.3, 94.3, 79.4, 2.9, 43.9,
          105.1, 49.1, 52.9, 63.7, 73.1, 61.9, 76.1, 39.8, 55.6, 64.6,
          70.7, 87.4, 97.9, 81.5, 66.8, 79.7, 81.7, 76.7, 84.4, 92.8]
DP_DOT_DAY = [170.6, 173, 175, 177, 179, 184.6, 187.6, 191.6]
DP_DOT_VAL = [64.1, 70.4, 57.5, 48.6, 65.2, 39.6, 52.5, 39.6]

for a, b, n in [(JW_DAY, JW_VAL, "JW"), (BW_DAY, BW_VAL, "BW"), (SL_DAY, SL_VAL, "SL"),
                (SJ_DAY, SJ_VAL, "SJ"), (MS_DAY, MS_VAL, "MS"), (SB_DAY, SB_VAL, "SB"),
                (DP_DAY, DP_VAL, "DP"), (DP_DOT_DAY, DP_DOT_VAL, "DPD")]:
    assert len(a) == len(b), (n, len(a), len(b))

# ---------------- helpers / layout geometry ----------------
BASE = datetime(1979, 1, 1)


def to_dates(days):
    return [None if d is None else (BASE + timedelta(days=d)).strftime("%Y-%m-%d %H:%M:%S") for d in days]


W, H = 1032, 1601
PX_L, PX_R = 65, 973
PANEL_PX = [(53, 275), (275, 499.3), (499.3, 694.3), (742.7, 908.3), (908.3, 1073.3),
            (1123.3, 1316.7), (1316.7, 1537.3)]
GROUP_PX = [(53, 694.3), (742.7, 1073.3), (1123.3, 1537.3)]
FOLD_PX = [(233, 443), (783, 997), (1355, 1533)]
FONT = "Lato"
BLACK = "black"


def py(p):
    return 1 - p / H


def pxx(p):
    return p / W


fig = go.Figure()

LINE = dict(color=BLACK, width=1.5)
series = [(JW_DAY, JW_VAL, 1, "lines"), (BW_DAY, BW_VAL, 2, "lines"), (BW_DASH_DAY, BW_DASH_VAL, 2, "lines"),
          (SL_DAY, SL_VAL, 3, "lines"), (SJ_DAY, SJ_VAL, 4, "lines"), (MS_DAY, MS_VAL, 5, "lines+markers"),
          (SB_DAY, SB_VAL, 6, "lines"), (DP_DAY, DP_VAL, 7, "lines+markers"),
          (DP_DOT_DAY, DP_DOT_VAL, 7, "markers")]
for d, v, n, mode in series:
    fig.add_trace(go.Scatter(x=to_dates(d), y=v, mode=mode, line=LINE,
                             marker=dict(color=BLACK, size=6),
                             xaxis="x" if n == 1 else f"x{n}", yaxis="y" if n == 1 else f"y{n}",
                             connectgaps=False, showlegend=False, hoverinfo="skip"))

layout = dict(width=W, height=H, margin=dict(l=0, r=0, t=0, b=0, pad=0, autoexpand=False),
              paper_bgcolor="white", plot_bgcolor="white", showlegend=False,
              font=dict(family=FONT, size=17, color=BLACK))
xdom = [pxx(PX_L), pxx(PX_R)]
TICK = dict(ticks="inside", ticklen=8, tickwidth=1.5, tickcolor=BLACK)
for i, (t, b) in enumerate(PANEL_PX):
    n = i + 1
    xa = "xaxis" if n == 1 else f"xaxis{n}"
    ya = "yaxis" if n == 1 else f"yaxis{n}"
    xr = "x" if n == 1 else f"x{n}"
    yr = "y" if n == 1 else f"y{n}"
    layout[xa] = dict(domain=xdom, anchor=yr, type="date", range=X_RANGE, tickmode="array",
                      tickvals=MONTH_STARTS, mirror="ticks", showticklabels=False, showgrid=False,
                      zeroline=False, showline=False, automargin=False, **TICK)
    yax = dict(range=Y_RANGES[i], tickmode="array", tickvals=Y_MAJOR[i],
               minor=dict(tickmode="array", tickvals=Y_MINOR[i], ticks="inside", ticklen=6,
                          tickwidth=1.5, tickcolor=BLACK, showgrid=False),
               showgrid=False, zeroline=False, showline=False, automargin=False,
               tickfont=dict(size=17, family=FONT), **TICK)
    layout[ya] = dict(domain=[py(b), py(t)], anchor=xr, **yax)
    rn = n + 7
    layout[f"yaxis{rn}"] = dict(overlaying=yr, side="right", anchor=xr, **yax)
    fig.add_trace(go.Scatter(x=[], y=[], xaxis=xr, yaxis=f"y{rn}", showlegend=False, hoverinfo="skip"))

LABEL_AXES = [(8, "x", "y", "top", 2), (9, "x3", "y3", "bottom", 12), (10, "x5", "y5", "bottom", 16),
              (11, "x7", "y7", "bottom", 14)]
for k, xo, yo, side, stand in LABEL_AXES:
    layout[f"xaxis{k}"] = dict(overlaying=xo, anchor=yo, side=side, type="date", range=X_RANGE,
                               tickmode="array", tickvals=MONTH_MIDS, ticktext=MONTH_NAMES, ticks="",
                               showgrid=False, zeroline=False, showline=False, automargin=False,
                               tickfont=dict(size=16, family=FONT), ticklabelstandoff=stand)
    fig.add_trace(go.Scatter(x=[], y=[], xaxis=f"x{k}", yaxis=yo, showlegend=False, hoverinfo="skip"))

# frames and dividers
shapes = []
for (t, b) in GROUP_PX:
    shapes.append(dict(type="rect", xref="paper", yref="paper", x0=xdom[0], x1=xdom[1], y0=py(b), y1=py(t),
                       line=dict(color=BLACK, width=4)))
for (t, b) in [PANEL_PX[0], PANEL_PX[1], PANEL_PX[3], PANEL_PX[5]]:
    shapes.append(dict(type="line", xref="paper", yref="paper", x0=xdom[0], x1=xdom[1], y0=py(b), y1=py(b),
                       line=dict(color=BLACK, width=4)))
for (t, b) in GROUP_PX:
    shapes.append(dict(type="line", xref="x", yref="paper", x0=YEAR_MARK, x1=YEAR_MARK,
                       y0=py(b), y1=py(t), line=dict(color=BLACK, width=1.3)))
for (t, b) in FOLD_PX:
    shapes.append(dict(type="line", xref="x", yref="paper", x0=FOLD_MARK, x1=FOLD_MARK,
                       y0=py(b), y1=py(t), line=dict(color="#777777", width=1, dash="dot")))
layout["shapes"] = shapes

ann = []


def text(x, y, s, size=18, xanchor="left", angle=0, xref="paper"):
    ann.append(dict(x=x if xref != "paper" else pxx(x), y=py(y), xref=xref, yref="paper", text=s,
                    showarrow=False, xanchor=xanchor, yanchor="middle", textangle=angle,
                    font=dict(family=FONT, size=size, color=BLACK)))


text(280, 79, TOP_TITLE[0], 20, "center")
text(290, 103, TOP_TITLE[1], 20, "center")
TITLE_POS = [(88, 312), (88, 535), (86, 777), (86, 936), (87, 1159), (90, 1510)]
for s, (x, y) in zip(PANEL_TITLES, TITLE_POS):
    text(x, y, s, 20)

UNIT_LEFT = [(24, 170), (24, 403), (32, 613), (30, 798), (32, 965), (30, 1203), (33, 1535)]
UNIT_RIGHT = [(1015, 163), (1015, 390), (1007, 613), (993, 795), (993, 963), (993, 1205), (1003, 1532)]
for i, u in enumerate(UNITS):
    ang = -90 if i < 2 else 0
    text(UNIT_LEFT[i][0], UNIT_LEFT[i][1], u, 17, "center", ang)
    text(UNIT_RIGHT[i][0], UNIT_RIGHT[i][1], u, 17, "center", ang)

for lab, pos in zip(YEAR_LABELS, YEAR_POS):
    text(pos, 17, lab, 17, "center", xref="x")
    text(pos, 1590, lab, 17, "center", xref="x")
layout["annotations"] = ann

fig.update_layout(**layout)
fig.write_html("out.html", config={"displayModeBar": False},
               post_script="document.body.style.margin='0';")
